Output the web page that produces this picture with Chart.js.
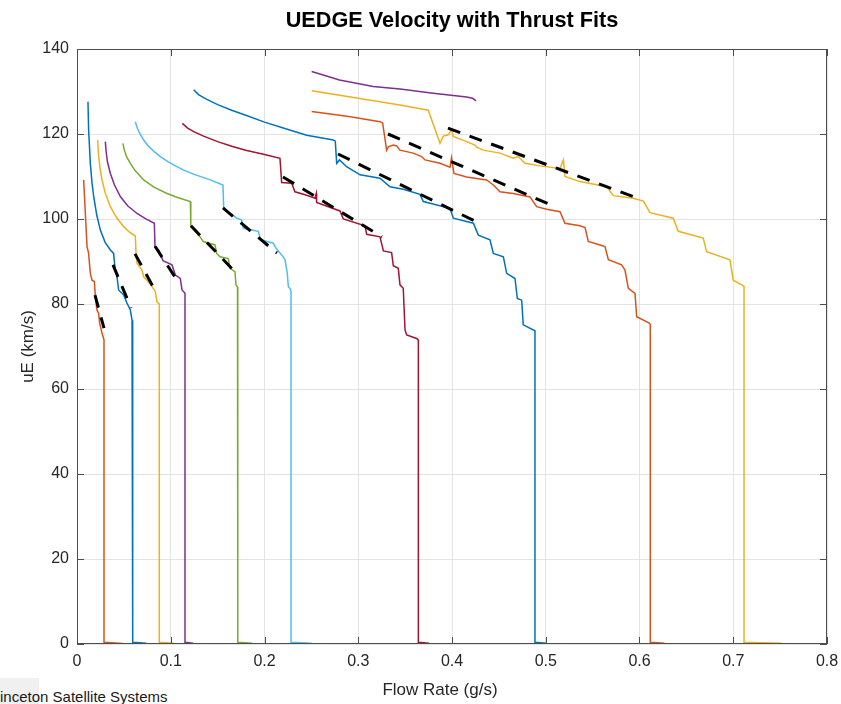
<!DOCTYPE html>
<html>
<head>
<meta charset="utf-8">
<title>UEDGE Velocity with Thrust Fits</title>
<script src="https://cdn.jsdelivr.net/npm/chart.js@4.4.1/dist/chart.umd.min.js"></script>
<style>
    html, body { margin: 0; padding: 0; background: #fff; overflow: hidden; }
    #wrap { position: relative; width: 841px; height: 704px; font-family: "Liberation Sans", Arial, sans-serif; }
    #chart { position: absolute; left: 0; top: 0; }
    #title { position: absolute; left: 77px; width: 750px; top: 6px; line-height: 28px; font-size: 21.7px; font-weight: bold; text-align: center; color: #000; }
    #xlabel { position: absolute; left: 290px; width: 300px; top: 680px; line-height: 20px; font-size: 17px; text-align: center; color: #262626; }
    #pssBox { position: absolute; left: 0; top: 678px; width: 39px; height: 26px; background: #f0f0f0; }
    #pss { position: absolute; left: -15px; top: 688px; font-size: 15px; line-height: 18px; color: #1a1a1a; white-space: nowrap; }
</style>
</head>
<body>
<div id="wrap">
    <div id="pssBox"></div>
    <div id="pss">Princeton Satellite Systems</div>
    <canvas id="chart" width="841" height="704"></canvas>
    <div id="title">UEDGE Velocity with Thrust Fits</div>
    <div id="xlabel">Flow Rate (g/s)</div>
</div>
<script>
// flow rate (g/s) and exhaust velocity (km/s), one pair per run
const flow1 = [0.0117, 0.0124, 0.0142, 0.016, 0.0178, 0.021, 0.0249, 0.03, 0.0356, 0.0391, 0.0405, 0.0427, 0.0444, 0.0498, 0.0533, 0.0569, 0.0587, 0.0594, 0.0594, 0.074];
const ue1   = [127.6, 121, 113.1, 108.5, 105.3, 101, 97.4, 94.5, 92.7, 91.9, 88.5, 86.4, 83.3, 82.1, 80.2, 78.6, 76.2, 75.5, 0.4, 0.2];

const flow2 = [0.0071, 0.0089, 0.0107, 0.0124, 0.0142, 0.016, 0.0185, 0.0196, 0.0213, 0.0231, 0.0242, 0.0267, 0.0284, 0.0288, 0.0288, 0.049];
const ue2   = [109.2, 101.3, 93.5, 91.9, 87.2, 85.6, 85.3, 81.7, 78.6, 77.8, 75.5, 73.1, 71.9, 71.5, 0.4, 0.1];

const flow3 = [0.022, 0.0228, 0.0245, 0.0267, 0.03, 0.0356, 0.042, 0.0498, 0.056, 0.0622, 0.063, 0.064, 0.0693, 0.0711, 0.0747, 0.08, 0.0836, 0.0853, 0.0878, 0.0878, 0.103];
const ue3   = [118.6, 115.5, 112.0, 109.2, 106.2, 102.9, 100.4, 98.2, 96.9, 96.0, 91.9, 89.6, 88, 86.4, 85.6, 84.1, 82.9, 80.5, 80.0, 0.4, 0.2];

const flow4 = [0.0302, 0.031, 0.0325, 0.0356, 0.04, 0.0462, 0.054, 0.064, 0.073, 0.0825, 0.0832, 0.0871, 0.0917, 0.1013, 0.1049, 0.1102, 0.112, 0.1138, 0.1152, 0.1152, 0.124];
const ue4   = [118.2, 116.0, 113.4, 110.7, 108.0, 105.3, 103.1, 101.3, 100.1, 99.0, 93.5, 92.7, 90.2, 89.2, 86.8, 86, 83.3, 82.9, 82.5, 0.4, 0.2];

const flow5 = [0.049, 0.0505, 0.053, 0.0569, 0.062, 0.0711, 0.082, 0.096, 0.108, 0.1209, 0.1214, 0.1312, 0.1347, 0.1472, 0.149, 0.1525, 0.1614, 0.1632, 0.1685, 0.1696, 0.1712, 0.1715, 0.1715, 0.187];
const ue5   = [117.8, 116.2, 114.6, 113.1, 111.4, 109.2, 107.5, 106, 105, 104.1, 98.2, 95.8, 94.7, 93.9, 91.9, 91.1, 90.7, 88.4, 87.6, 84.5, 84.0, 83.5, 0.4, 0.2];

const flow6 = [0.0622, 0.0645, 0.0675, 0.0711, 0.076, 0.082, 0.0889, 0.097, 0.105, 0.1138, 0.125, 0.1422, 0.1557, 0.1565, 0.1703, 0.1756, 0.1774, 0.1934, 0.1959, 0.2094, 0.2123, 0.22, 0.2219, 0.2243, 0.2254, 0.2275, 0.2283, 0.2283, 0.2503];
const ue6   = [122.9, 121.3, 119.9, 118.6, 117.2, 115.9, 114.7, 113.5, 112.5, 111.5, 110.5, 109.2, 108.0, 102.5, 100.2, 99.8, 97.8, 97.1, 95.1, 94.3, 93.1, 91.1, 90.4, 87.2, 84.1, 83.5, 83, 0.4, 0.2];

const flow7 = [0.1124, 0.118, 0.125, 0.135, 0.15, 0.165, 0.18, 0.2, 0.2165, 0.2183, 0.229, 0.2325, 0.245, 0.2539, 0.2552, 0.2556, 0.2805, 0.2841, 0.3072, 0.309, 0.3232, 0.3268, 0.3356, 0.3374, 0.3427, 0.3445, 0.348, 0.3499, 0.3516, 0.3623, 0.3641, 0.3641, 0.3755];
const ue7   = [122.5, 121.4, 120.5, 119.5, 118.2, 117.1, 116.2, 115.2, 114.3, 108.6, 108.4, 106.4, 105.6, 104.9, 106.0, 103.9, 101.9, 100.0, 98.4, 96.4, 95.8, 92.5, 92.1, 89.0, 88.4, 84.5, 83.7, 73.9, 72.7, 71.9, 71.5, 0.4, 0.2];

const flow8 = [0.1244, 0.13, 0.138, 0.15, 0.165, 0.18, 0.2, 0.22, 0.245, 0.2734, 0.2755, 0.277, 0.28, 0.2876, 0.3019, 0.3232, 0.3339, 0.348, 0.3659, 0.3694, 0.3979, 0.4014, 0.4228, 0.4281, 0.4405, 0.4441, 0.4548, 0.4583, 0.4672, 0.4697, 0.4743, 0.476, 0.4885, 0.4885, 0.501];
const ue8   = [130.4, 129.2, 128.2, 126.9, 125.6, 124.4, 122.8, 121.4, 119.7, 118.6, 118.3, 113.1, 113.9, 112.3, 110.4, 109.6, 107.6, 107.0, 105.8, 104.1, 102.5, 100.2, 99.0, 96.2, 95.1, 91.9, 91.1, 87.2, 86.0, 81.3, 80.9, 75.1, 73.7, 0.4, 0.2];

const flow9 = [0.2503, 0.29, 0.3232, 0.326, 0.3303, 0.3321, 0.3374, 0.3409, 0.3445, 0.3587, 0.3676, 0.3712, 0.3872, 0.3979, 0.3995, 0.4021, 0.4156, 0.4369, 0.4441, 0.4512, 0.4654, 0.4832, 0.4903, 0.501, 0.5152, 0.5205, 0.5365, 0.5419, 0.5454, 0.5579, 0.5632, 0.5668, 0.5809, 0.5845, 0.5881, 0.5952, 0.597, 0.6105, 0.6115, 0.6115, 0.6265];
const ue9   = [125.3, 124.1, 122.9, 122.6, 116.2, 117.0, 117.4, 117.2, 116.2, 115.5, 114.7, 113.9, 113.1, 112.2, 114.4, 110.7, 109.9, 109.2, 108.0, 106.4, 106.0, 105.2, 102.9, 102.3, 101.7, 99.0, 98.4, 98.0, 94.7, 93.9, 93.5, 90.4, 89.2, 88.0, 83.7, 82.5, 77.0, 75.5, 75.2, 0.4, 0.2];

const flow10 = [0.2503, 0.3, 0.3445, 0.3747, 0.3872, 0.3907, 0.396, 0.3996, 0.4014, 0.4156, 0.4245, 0.4263, 0.4334, 0.4512, 0.4654, 0.4707, 0.4779, 0.4939, 0.5152, 0.5188, 0.5205, 0.5365, 0.565, 0.5721, 0.5934, 0.6041, 0.6112, 0.636, 0.6414, 0.668, 0.6716, 0.6965, 0.7, 0.7115, 0.7115, 0.7516];
const ue10   = [130.2, 128.4, 126.8, 125.6, 117.8, 119.5, 119.8, 121.0, 119.4, 118.2, 117.4, 116.9, 116.2, 115.5, 114.3, 114.7, 113.1, 112.5, 111.9, 113.9, 110.0, 108.8, 107.6, 105.5, 104.9, 104.2, 101.5, 100.2, 97.1, 95.5, 92.3, 90.4, 85.6, 84.2, 0.4, 0.2];

const flow11 = [0.2503, 0.28, 0.316, 0.3445, 0.38, 0.4156, 0.422, 0.4256];
const ue11   = [134.7, 132.7, 131.2, 130.6, 129.6, 128.7, 128.4, 127.8];

// thrust fit lines: start and end of each fit
const fitFlowStart = [0.0192, 0.0384, 0.0619, 0.0832, 0.1216, 0.1557, 0.2197, 0.2784, 0.3317, 0.3957];
const fitUeStart   = [82.1, 89.2, 91.8, 93.6, 98.4, 102.6, 109.9, 115.3, 120.0, 121.4];
const fitFlowEnd   = [0.0288, 0.0576, 0.0843, 0.1067, 0.1675, 0.2133, 0.3253, 0.4245, 0.5077, 0.6027];
const fitUeEnd     = [74.3, 79.1, 82.8, 85.6, 87.8, 92.0, 95.8, 99.5, 103.1, 104.5];

const xTicks = [0, 0.1, 0.2, 0.3, 0.4, 0.5, 0.6, 0.7, 0.8];
const yTicks = [0, 20, 40, 60, 80, 100, 120, 140];

document.addEventListener("DOMContentLoaded", function () {
    const runs = [
        [flow1, ue1], [flow2, ue2], [flow3, ue3], [flow4, ue4], [flow5, ue5], [flow6, ue6],
        [flow7, ue7], [flow8, ue8], [flow9, ue9], [flow10, ue10], [flow11, ue11]
    ];
    // matlab default line colours
    const colors = ['#0072BD', '#D95319', '#EDB120', '#7E2F8E', '#77AC30', '#4DBEEE', '#A2142F'];
    const font = '"Liberation Sans", Arial, Helvetica, sans-serif';

    function toPoints(xs, ys) {
        return xs.map((x, i) => ({ x: x, y: ys[i] }));
    }

    const datasets = [];
    runs.forEach((r, i) => {
        datasets.push({
            data: toPoints(r[0], r[1]),
            borderColor: colors[i % colors.length],
            borderWidth: 1.5,
            pointRadius: 0,
            tension: 0,
            order: 1
        });
    });
    fitFlowStart.forEach((x0, i) => {
        datasets.push({
            data: toPoints([x0, fitFlowEnd[i]], [fitUeStart[i], fitUeEnd[i]]),
            borderColor: '#000',
            borderWidth: 3,
            borderDash: [13, 10],
            pointRadius: 0,
            order: 0
        });
    });

    // axes box with inward ticks, like matlab
    const boxPlugin = {
        id: 'box',
        afterDraw(chart) {
            const { ctx, chartArea: a, scales } = chart;
            ctx.save();
            ctx.strokeStyle = '#4d4d4d';
            ctx.lineWidth = 1;
            ctx.strokeRect(a.left + 0.5, a.top + 0.5, a.right - a.left - 1, a.bottom - a.top - 1);
            ctx.beginPath();
            xTicks.forEach(v => {
                const px = Math.round(scales.x.getPixelForValue(v)) + 0.5;
                ctx.moveTo(px, a.bottom); ctx.lineTo(px, a.bottom - 7);
                ctx.moveTo(px, a.top); ctx.lineTo(px, a.top + 7);
            });
            yTicks.forEach(v => {
                const py = Math.round(scales.y.getPixelForValue(v)) + 0.5;
                ctx.moveTo(a.left, py); ctx.lineTo(a.left + 7, py);
                ctx.moveTo(a.right, py); ctx.lineTo(a.right - 7, py);
            });
            ctx.stroke();
            ctx.restore();
        }
    };

    const ctx = document.getElementById('chart').getContext('2d');
    new Chart(ctx, {
        type: 'line',
        data: { datasets: datasets },
        options: {
            responsive: false,
            animation: false,
            layout: { padding: { left: 0, right: 14, top: 49, bottom: 0 } },
            plugins: {
                legend: { display: false },
                tooltip: { enabled: false }
            },
            scales: {
                x: {
                    type: 'linear',
                    min: 0,
                    max: 0.8,
                    afterFit(scale) { scale.height = 60; scale.paddingLeft = 0; scale.paddingRight = 0; },
                    afterBuildTicks(scale) { scale.ticks = xTicks.map(v => ({ value: v })); },
                    grid: { color: '#e3e3e3', drawTicks: false },
                    border: { display: false },
                    ticks: { color: '#262626', padding: 8, font: { family: font, size: 16 } }
                },
                y: {
                    type: 'linear',
                    min: 0,
                    max: 140,
                    afterFit(scale) { scale.width = 77; scale.paddingTop = 0; scale.paddingBottom = 0; },
                    afterBuildTicks(scale) { scale.ticks = yTicks.map(v => ({ value: v })); },
                    grid: { color: '#e3e3e3', drawTicks: false },
                    border: { display: false },
                    ticks: { color: '#262626', padding: 8, font: { family: font, size: 16 } },
                    title: {
                        display: true,
                        text: 'uE (km/s)',
                        color: '#262626',
                        font: { family: font, size: 17, lineHeight: 1.2 },
                        padding: { top: 18, bottom: 0 }
                    }
                }
            }
        },
        plugins: [boxPlugin]
    });
});
</script>
</body>
</html>
